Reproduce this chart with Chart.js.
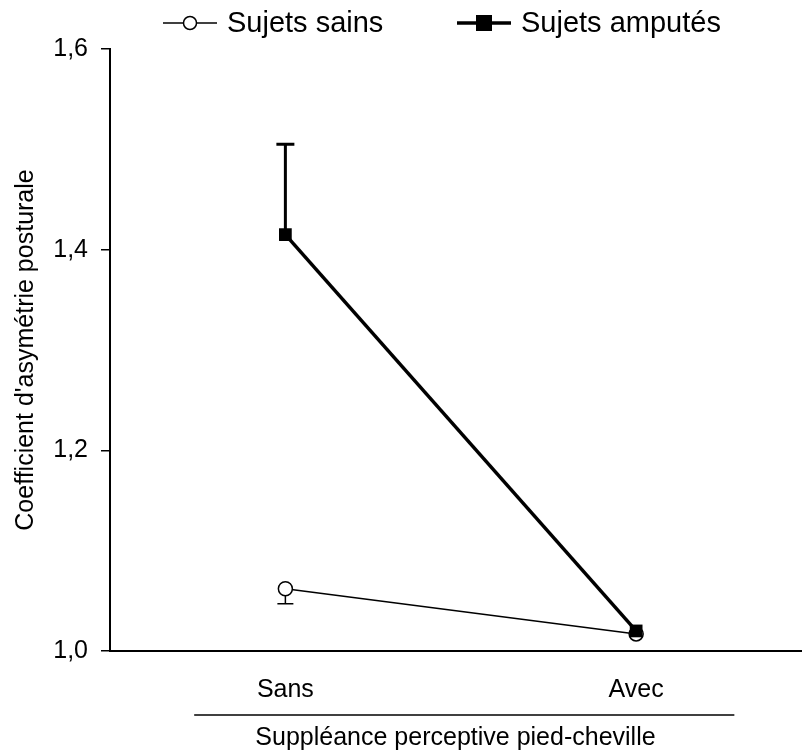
<!DOCTYPE html>
<html>
<head>
<meta charset="utf-8">
<script src="https://cdn.jsdelivr.net/npm/chart.js@4.4.1/dist/chart.umd.min.js"></script>
<style>
  html, body { margin: 0; padding: 0; background: #fff; }
  #wrap { width: 810px; height: 753px; }
</style>
</head>
<body>
<div id="wrap"><canvas id="chart"></canvas></div>
<script>
const conditions = ["Sans", "Avec"];
const sains = [1.062, 1.017];
const sainsErrLow = [1.047, null];   // only the lower half of the bar shows
const amputes = [1.415, 1.020];
const amputesErrHigh = [1.505, null]; // only the upper half shows
const yTicks = [1.0, 1.2, 1.4, 1.6];

const FONT = "'Liberation Sans', Arial, sans-serif";

const toPoints = (arr) => arr.map((v, i) => ({ x: i, y: v }));

// error bars, drawn under the markers
const errorBars = {
  id: "errorBars",
  beforeDatasetsDraw(chart) {
    const { ctx, scales: { x, y } } = chart;
    const draw = (vals, ends, width, cap) => {
      ctx.save();
      ctx.strokeStyle = "#000";
      ctx.lineWidth = width;
      vals.forEach((v, i) => {
        if (ends[i] == null) return;
        const px = x.getPixelForValue(i);
        const y0 = y.getPixelForValue(v);
        const y1 = y.getPixelForValue(ends[i]);
        ctx.beginPath();
        ctx.moveTo(px, y0);
        ctx.lineTo(px, y1);
        ctx.moveTo(px - cap, y1);
        ctx.lineTo(px + cap, y1);
        ctx.stroke();
      });
      ctx.restore();
    };
    draw(sains, sainsErrLow, 1.5, 8);
    draw(amputes, amputesErrHigh, 3, 9);
  }
};

// legend with line + marker, and the bracket line under the categories
const decor = {
  id: "decor",
  afterDraw(chart) {
    const { ctx, scales: { x } } = chart;
    ctx.save();
    ctx.fillStyle = "#000";
    ctx.strokeStyle = "#000";
    ctx.font = "29px " + FONT;
    ctx.textBaseline = "middle";
    const items = [[163, chart.data.datasets[0]], [457, chart.data.datasets[1]]];
    items.forEach(([lx, ds]) => {
      const cy = 23;
      ctx.lineWidth = ds.borderWidth;
      ctx.beginPath();
      ctx.moveTo(lx, cy);
      ctx.lineTo(lx + 54, cy);
      ctx.stroke();
      const cx = lx + 27;
      if (ds.pointStyle === "rect") {
        ctx.fillRect(cx - 8, cy - 8, 16, 16);
      } else {
        ctx.beginPath();
        ctx.arc(cx, cy, 6.5, 0, Math.PI * 2);
        ctx.fillStyle = "#fff";
        ctx.fill();
        ctx.lineWidth = 1.5;
        ctx.stroke();
        ctx.fillStyle = "#000";
      }
      ctx.fillText(ds.label, lx + 64, cy + 1);
    });
    // bracket under the category labels
    const yb = 715;
    ctx.lineWidth = 1.5;
    ctx.beginPath();
    ctx.moveTo(x.getPixelForValue(-0.26), yb);
    ctx.lineTo(x.getPixelForValue(1.28), yb);
    ctx.stroke();
    ctx.restore();
  }
};

new Chart(document.getElementById("chart"), {
  type: "line",
  data: {
    datasets: [
      {
        label: "Sujets sains",
        data: toPoints(sains),
        order: 1,
        borderColor: "#000",
        borderWidth: 1.5,
        pointStyle: "circle",
        pointRadius: 7,
        pointBorderWidth: 1.5,
        pointBackgroundColor: "#fff",
        pointBorderColor: "#000",
      },
      {
        label: "Sujets amputés",
        data: toPoints(amputes),
        order: 0,
        borderColor: "#000",
        borderWidth: 3.5,
        pointStyle: "rect",
        pointRadius: 9,
        pointBorderWidth: 0,
        pointBackgroundColor: "#000",
      },
    ],
  },
  options: {
    responsive: true,
    maintainAspectRatio: false,
    animation: false,
    layout: { padding: { top: 49, right: 0, left: 0, bottom: 0 } },
    plugins: {
      legend: { display: false },
      tooltip: { enabled: false },
    },
    scales: {
      x: {
        type: "linear",
        min: -0.5,
        max: 1.47,
        afterBuildTicks: (s) => { s.ticks = conditions.map((c, i) => ({ value: i })); },
        afterFit: (s) => { s.height = 102; },
        grid: { display: false, drawTicks: false },
        border: { color: "#000", width: 2 },
        ticks: {
          color: "#000",
          padding: 24,
          font: { family: FONT, size: 25 },
          callback: (v) => conditions[v],
        },
        title: {
          display: true,
          text: "Suppléance perceptive pied-cheville",
          color: "#000",
          font: { family: FONT, size: 25 },
          padding: { top: 0, bottom: 0 },
        },
      },
      y: {
        min: 1.0,
        max: 1.6,
        afterBuildTicks: (s) => { s.ticks = yTicks.map((v) => ({ value: v })); },
        afterFit: (s) => { s.width = 110; },
        grid: { drawOnChartArea: false, drawTicks: true, tickLength: 9, color: "#000", lineWidth: 1.5 },
        border: { color: "#000", width: 2 },
        ticks: {
          color: "#000",
          padding: 13,
          font: { family: FONT, size: 25 },
          callback: (v) => v.toFixed(1).replace(".", ","),
        },
        title: {
          display: true,
          text: "Coefficient d'asymétrie posturale",
          color: "#000",
          font: { family: FONT, size: 25 },
          padding: { top: 11, bottom: 0 },
        },
      },
    },
  },
  plugins: [errorBars, decor],
});
</script>
</body>
</html>
